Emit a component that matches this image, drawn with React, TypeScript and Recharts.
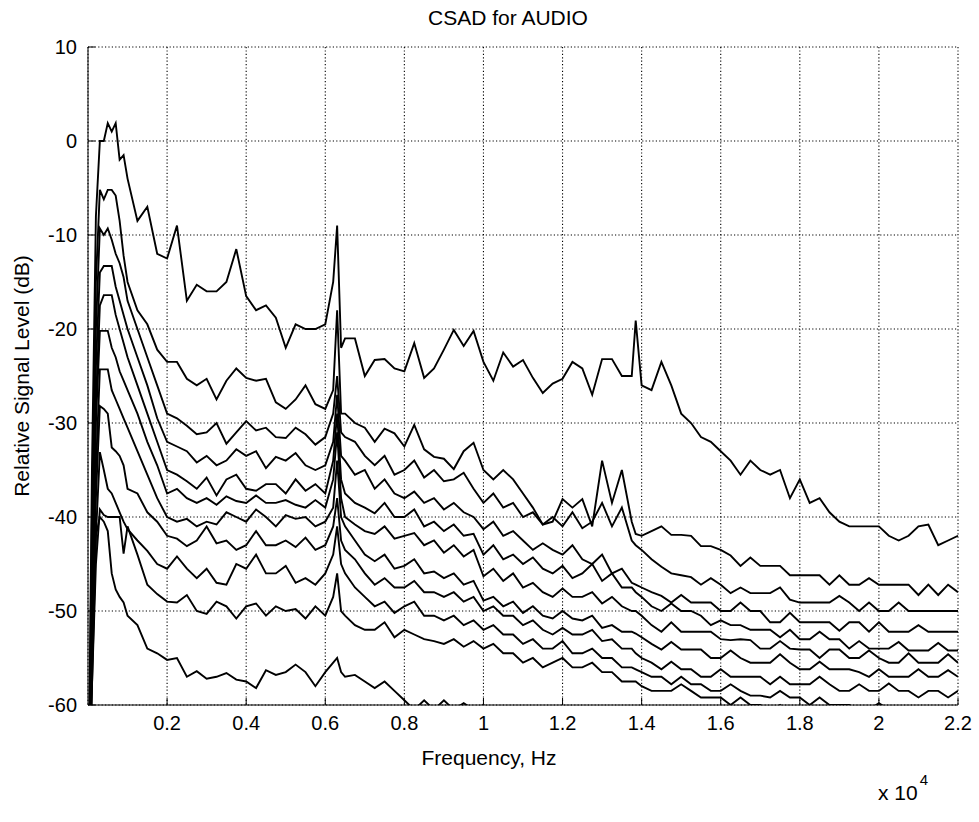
import React from 'react';
import { LineChart, Line, XAxis, YAxis, CartesianGrid } from 'recharts';

// Frequency grid of the cumulative spectra (Hz)
const FREQ_HZ = [
  0, 100, 200, 300, 400, 500, 600, 700, 800, 900, 1000,
  1250, 1500, 1750, 2000, 2250, 2500, 2750, 3000, 3250, 3500, 3750, 4000, 4250, 4500, 4750, 5000, 5250, 5500, 5750, 6000,
  6200, 6300, 6400,
  6500, 6750, 7000, 7250, 7500, 7750, 8000, 8250, 8500, 8750, 9000, 9250, 9500, 9750, 10000, 10250, 10500, 10750, 11000,
  11250, 11500, 11750, 12000, 12250, 12500, 12750, 13000, 13250, 13500, 13750,
  13850,
  14000, 14250, 14500, 14750, 15000, 15250, 15500, 15750, 16000, 16250, 16500, 16750, 17000, 17250, 17500, 17750, 18000,
  18250, 18500, 18750, 19000, 19250, 19500, 19750, 20000, 20250, 20500, 20750, 21000, 21250, 21500, 21750, 22000,
];

// Relative signal level (dB) of each spectrum, one value per frequency above
const TRACE_1 = [
  -75, -35, -8, 0, 0, 1.9, 1, 1.9, -2, -1.5, -4,
  -8.5, -7, -12, -12.5, -9, -17, -15.3, -16, -16, -15, -11.5, -16.5, -18, -17.5, -18.8, -22, -19.5, -20, -20, -19.5,
  -15, -9, -22,
  -21, -21, -25, -23.3, -23.2, -24.2, -24.5, -21.5, -25.2, -24.2, -22.2, -20.1, -21.8, -20.2, -23.5, -25.5, -22.5, -24, -23.3,
  -25.2, -26.8, -25.8, -25.3, -23.5, -24.2, -27, -23.2, -23.2, -25, -25,
  -19.1,
  -26, -26.5, -23.5, -26, -29, -30, -31.5, -32, -33, -34, -35.5, -34, -35, -35.5, -35, -38, -36,
  -38.5, -38, -39.5, -40.5, -41, -41, -41, -41, -42, -42.5, -42, -41, -40.8, -43, -42.5, -42,
];
const TRACE_2 = [
  -75, -40, -15, -5.2, -6.2, -5.2, -5.2, -5.8, -8.5, -12.2, -15,
  -18, -19.5, -22.2, -23.5, -23.5, -25.3, -26, -25.3, -27.5, -25.5, -24.2, -25.2, -25.5, -25.3, -27.8, -28.5, -27.5, -26, -28, -28.5,
  -26.5, -18, -29,
  -29, -30, -30.5, -32, -30.6, -31.1, -32.5, -30.2, -32.8, -33.6, -33.8, -34.9, -33, -32.1, -35, -36, -35, -36, -37.5,
  -39, -40.8, -40.5, -38.1, -39, -38.1, -41, -34, -38.5, -35, -40.5,
  -41.8,
  -42, -41.5, -41, -41.9, -41.9, -42, -43.1, -43.1, -43.5, -44.1, -45.2, -44.3, -45.2, -45.2, -45.2, -46.2, -46.2,
  -46.2, -46.2, -47.2, -46.2, -47.2, -47.2, -46.5, -47.2, -47.2, -47.2, -47.2, -48.3, -47.2, -48.3, -47.2, -48,
];
const TRACE_3 = [
  -75, -45, -20, -9.3, -10, -9.3, -10.5, -12, -13, -14.5, -17,
  -20, -23, -26, -29, -29.5, -30.3, -31.2, -31, -30, -32.2, -31, -29.8, -30.8, -30.5, -31.5, -31.6, -30.5, -31.2, -32.3, -31.5,
  -29, -25, -31,
  -31.5, -32, -33.5, -34.5, -33.5, -35.5, -35, -34, -35.8, -35, -36.2, -36, -35.3, -37, -38.5, -37.5, -39, -38.5, -40,
  -39.5, -40.8, -40, -41, -39.5, -41.2, -40.5, -38.5, -41, -39, -42.5,
  -43,
  -43.5, -44.5, -45.3, -46, -46.2, -46.4, -47.2, -46.5, -47.2, -48.1, -47.5, -48.1, -48.1, -48.1, -47.5, -48.8, -49.1,
  -49.1, -49.1, -49.1, -48.4, -49.1, -50, -49.1, -50, -50, -49.1, -50, -50, -50, -50, -50, -50,
];
const TRACE_4 = [
  -75, -48, -24, -14, -13.3, -13.3, -13.3, -15.5, -17, -18.5, -20,
  -23, -26, -29.5, -32, -32.5, -33, -34.2, -33.5, -34.5, -34, -32.8, -33.5, -33, -34.8, -33.6, -34, -33.2, -34.5, -35, -34.5,
  -32, -27, -33.5,
  -34, -35.5, -35, -37, -36, -37.5, -38, -37.3, -38.5, -38, -39.2, -38.5, -39.5, -40, -41.3, -40.5, -42, -41.5, -42.5,
  -43.5, -42.8, -43.5, -44, -43, -44.5, -45, -44, -46, -45.5, -47,
  -47.2,
  -47.5, -48, -48.4, -49.1, -48.3, -49.1, -49.1, -49.1, -50, -50, -49.1, -50, -50, -51.2, -51.2, -50.2, -51.2,
  -51.2, -51.2, -51.2, -52.1, -51.2, -51.2, -52.2, -51.2, -52.2, -52.2, -52.2, -51.5, -52.2, -52.2, -52.2, -52.2,
];
const TRACE_5 = [
  -75, -50, -28, -17.5, -16.4, -16.4, -16.4, -18.5, -20, -21.5, -23,
  -26, -29, -32, -35, -35.5, -36.2, -37, -35.8, -37.7, -36, -35.5, -37, -37.2, -36.5, -36.5, -37.5, -36, -37.2, -36.5, -37.5,
  -34, -29, -36,
  -37.5, -38.5, -39, -39.6, -38.5, -40, -40, -39.2, -41, -40.5, -41.5, -40.8, -42, -41.8, -44, -43, -44.5, -44, -45,
  -44.3, -45.5, -46, -45.2, -46.5, -46, -45, -46.8, -46, -47.5, -47.5,
  -48,
  -48.5, -49.5, -50, -49.2, -50, -50, -50.5, -51.5, -51, -51.5, -51.5, -52, -52, -52, -52.8, -52, -53,
  -53, -52.2, -53, -53, -54, -53.2, -54, -54, -54, -53.3, -54.2, -54.2, -54.2, -53.4, -54.2, -54.2,
];
const TRACE_6 = [
  -75, -52, -30, -20.2, -20.2, -20.2, -22, -23, -24.5, -25.5, -26.5,
  -29, -32, -34.5, -37.5, -37, -38, -38.5, -38, -38.7, -37.8, -38.3, -38.5, -37.7, -38.5, -38.5, -38.2, -38.7, -39, -38.2, -39,
  -36, -31, -38,
  -40, -40.8, -41.5, -41.8, -41, -42.3, -42, -41.7, -43, -42.5, -43.8, -43, -44.2, -43.5, -46.3, -45.5, -46.8, -46, -47.5,
  -47, -48, -48.5, -47.6, -48.5, -48.5, -48, -49.2, -48.5, -49.5, -50,
  -50,
  -50.5, -51.5, -52.2, -51.2, -52.2, -52.2, -52.2, -52.2, -53, -53.1, -53, -53.1, -54, -54, -53.2, -54, -54.1,
  -54.1, -55, -54.1, -54.1, -55, -55, -54.2, -55, -55.5, -55.5, -54.5, -55.5, -55.5, -55.5, -54.6, -55.5,
];
const TRACE_7 = [
  -75, -54, -35, -24.3, -24.3, -24.3, -26.5, -27.5, -28.5, -29.5, -30.5,
  -33, -35.5, -38, -40, -40.5, -40.2, -41, -40.5, -40.8, -39.5, -40, -40.5, -39.2, -40, -41, -39.8, -40.2, -40, -41, -40.5,
  -39, -34, -40,
  -41, -42.5, -44, -44.7, -44, -45.5, -45.2, -44.5, -46, -45.8, -46.5, -46, -47.2, -46.8, -48.9, -48.5, -49.5, -49, -50.2,
  -49.5, -50.5, -50.8, -50, -50.8, -51, -50.5, -51.8, -51.5, -52.2, -52.2,
  -52.4,
  -52.8, -53.5, -54.1, -53.3, -54.1, -54.1, -54.1, -55, -55, -54.2, -55, -55.5, -55.5, -55.5, -54.6, -55.5, -56.2,
  -56.2, -55.4, -56.2, -56.2, -56.2, -56.5, -57, -56.2, -57, -57, -57, -56.2, -57, -57, -56.3, -57,
];
const TRACE_8 = [
  -75, -55, -38, -28.2, -28.5, -29, -32.6, -33, -33.5, -34.5, -37,
  -37.5, -39.5, -40.5, -42, -42.3, -43.1, -42.5, -41, -42.8, -42.5, -43.5, -43, -41.5, -43, -43, -42.5, -43.2, -42.2, -43.5, -43,
  -41, -38, -42.5,
  -43.5, -44.5, -46, -47.2, -46.5, -47.5, -47.5, -46.8, -48, -48, -48.5, -48, -49, -48.5, -50, -49.5, -50.5, -50.5, -51.5,
  -51, -52, -52.5, -51.8, -52.5, -52.5, -52, -53.2, -53, -54, -54,
  -54.5,
  -55, -55.5, -56.2, -55.4, -56.2, -56.2, -57, -57, -56.2, -57, -57, -57, -57, -57.8, -57, -57.8, -57.8,
  -57.8, -57, -57.8, -58.5, -58.5, -57.8, -58.5, -58.5, -57.7, -58.5, -58.5, -59.2, -58.5, -58.5, -59.2, -58.5,
];
const TRACE_9 = [
  -75, -56, -42, -33.1, -35, -37, -37.5, -38.5, -39.5, -40.5, -41.3,
  -42.5, -43.6, -45, -45.5, -44.2, -45.5, -46.5, -45.5, -47, -47.2, -45, -45.5, -44, -46, -46, -45.2, -47, -46.5, -47.2, -46,
  -44, -41, -45,
  -46, -47.5, -48.5, -49.5, -49, -50.2, -49.5, -49, -50.5, -50.5, -51, -50.5, -51.5, -51, -52, -51.5, -52.5, -52.5, -53.5,
  -53, -54, -54, -53.2, -54.5, -54.5, -54, -55, -55, -56, -56,
  -56.2,
  -56.5, -57, -57, -57.8, -57, -57.8, -57.8, -58.5, -58.5, -57.8, -58.5, -59, -59, -59.2, -58.5, -59.2, -59.2,
  -60, -59.2, -60, -60, -60, -60.5, -60.5, -59.8, -60.5, -61, -61, -61, -60.2, -61, -61, -61,
];
const TRACE_10 = [
  -75, -58, -45, -39.2, -39.8, -40, -40, -40, -40, -43.9, -41,
  -44, -47.2, -48.2, -49, -49.1, -48.3, -50, -50.3, -49, -49.5, -50.8, -49.5, -49.2, -50.5, -49.5, -50, -49.8, -50.8, -49.5, -50.5,
  -48.5, -46, -50,
  -50.5, -51.5, -52, -52, -51.2, -52.8, -52, -52.5, -53, -53.2, -53.5, -53, -53.8, -53.2, -54, -53.5, -54.5, -54.5, -55.5,
  -55, -56, -55.5, -55, -56, -56, -55.5, -56.5, -56.5, -57.5, -57.5,
  -57.5,
  -58, -58.5, -58.5, -58.5, -57.8, -58.5, -59.2, -59.2, -59.2, -60, -59.2, -60, -60, -60.8, -60, -60.8, -61,
  -61, -61, -60.5, -61.5, -61.5, -61.5, -61, -61.5, -62, -62, -61.5, -62, -62, -62, -62, -62,
];
const TRACE_11 = [
  -75, -58, -42, -40, -40.5, -41.5, -46, -47.7, -48.5, -49.1, -50.5,
  -51.5, -54, -54.5, -55.2, -55, -57, -56.4, -57.2, -57, -56.6, -57.3, -57.5, -58.2, -56.3, -56.8, -56.5, -55.7, -56.5, -58, -56.5,
  -55.5, -55, -56.5,
  -57, -56.8, -57.5, -58.2, -57.5, -58.5, -59.5, -60.5, -59.5, -60.5, -59.5, -60.5, -59.8, -60.5, -60, -61, -60.5, -61, -61,
  -60.3, -61, -61.5, -61, -61.5, -61.5, -61.5, -61.5, -62, -62, -62,
  -62,
  -63, -63, -63, -63, -63, -63, -63, -63, -63, -63, -63, -63, -63, -63, -63, -63, -63,
  -63, -63, -63, -63, -63, -63, -63, -63, -63, -63, -63, -63, -63, -63, -63, -63, -63,
];

const TRACES = [
  TRACE_1, TRACE_2, TRACE_3, TRACE_4, TRACE_5, TRACE_6,
  TRACE_7, TRACE_8, TRACE_9, TRACE_10, TRACE_11,
];

// Axis ticks: frequency shown in units of 10^4 Hz
const X_TICKS = [2000, 4000, 6000, 8000, 10000, 12000, 14000, 16000, 18000, 20000, 22000];
const X_TICK_LABELS = ['0.2', '0.4', '0.6', '0.8', '1', '1.2', '1.4', '1.6', '1.8', '2', '2.2'];
const Y_TICKS = [-60, -50, -40, -30, -20, -10, 0, 10];

const rows = FREQ_HZ.map((f, i) => {
  const row: Record<string, number> = { f };
  TRACES.forEach((t, k) => {
    row[`s${k}`] = t[i];
  });
  return row;
});

const FONT = "'Liberation Sans', Arial, Helvetica, sans-serif";
const TICK_FONT = 20;
const LABEL_FONT = 21;
const TICK_LEN = 7;
const X_TICK_GAP = 8;
const Y_TICK_GAP = 11;

function XTick(props: any) {
  const { x, y, payload } = props;
  const idx = X_TICKS.indexOf(payload.value);
  const axisY = y - X_TICK_GAP;
  return (
    <g>
      <line x1={x} y1={axisY} x2={x} y2={axisY - TICK_LEN} stroke="#000" strokeWidth={1} />
      <text x={x} y={y} dy="0.86em" textAnchor="middle" fontFamily={FONT} fontSize={TICK_FONT} fill="#000">
        {idx >= 0 ? X_TICK_LABELS[idx] : ''}
      </text>
    </g>
  );
}

function YTick(props: any) {
  const { x, y, payload } = props;
  const axisX = x + Y_TICK_GAP;
  return (
    <g>
      <line x1={axisX} y1={y} x2={axisX + TICK_LEN} y2={y} stroke="#000" strokeWidth={1} />
      <text x={x} y={y} dy="0.36em" textAnchor="end" fontFamily={FONT} fontSize={TICK_FONT} fill="#000">
        {payload.value}
      </text>
    </g>
  );
}

export default function App() {
  return (
    <div style={{ position: 'absolute', left: 0, top: 0, width: 979, height: 822, background: '#fff' }}>
      <LineChart
        width={979}
        height={822}
        data={rows}
        margin={{ top: 47, right: 21, bottom: 77, left: 28 }}
      >
        <CartesianGrid stroke="#000" strokeWidth={1.1} strokeDasharray="1.2 2.2" />
        <XAxis
          dataKey="f"
          type="number"
          domain={[0, 22000]}
          ticks={X_TICKS}
          allowDataOverflow
          height={40}
          axisLine={{ stroke: '#000', strokeWidth: 1 }}
          tickLine={false}
          tickSize={0}
          tickMargin={X_TICK_GAP}
          tick={<XTick />}
          interval={0}
        />
        <YAxis
          type="number"
          domain={[-60, 10]}
          ticks={Y_TICKS}
          allowDataOverflow
          width={60}
          axisLine={{ stroke: '#000', strokeWidth: 1 }}
          tickLine={false}
          tickSize={0}
          tickMargin={Y_TICK_GAP}
          tick={<YTick />}
          interval={0}
        />
        {TRACES.map((_, k) => (
          <Line
            key={k}
            dataKey={`s${k}`}
            type="linear"
            stroke="#000"
            strokeWidth={1.9}
            dot={false}
            activeDot={false}
            isAnimationActive={false}
          />
        ))}
      </LineChart>
      <svg
        width={979}
        height={822}
        style={{ position: 'absolute', left: 0, top: 0, pointerEvents: 'none' }}
      >
        <text x={508} y={25} textAnchor="middle" fontFamily={FONT} fontSize={LABEL_FONT} fill="#000">
          CSAD for AUDIO
        </text>
        <text x={489} y={765} textAnchor="middle" fontFamily={FONT} fontSize={LABEL_FONT} fill="#000">
          Frequency, Hz
        </text>
        <text
          x={0}
          y={0}
          transform="translate(29 376) rotate(-90)"
          textAnchor="middle"
          fontFamily={FONT}
          fontSize={LABEL_FONT}
          fill="#000"
        >
          Relative Signal Level (dB)
        </text>
        <text x={878} y={800} fontFamily={FONT} fontSize={LABEL_FONT} fill="#000">
          x 10
          <tspan dx={2} dy={-15} fontSize={15}>4</tspan>
        </text>
      </svg>
    </div>
  );
}
